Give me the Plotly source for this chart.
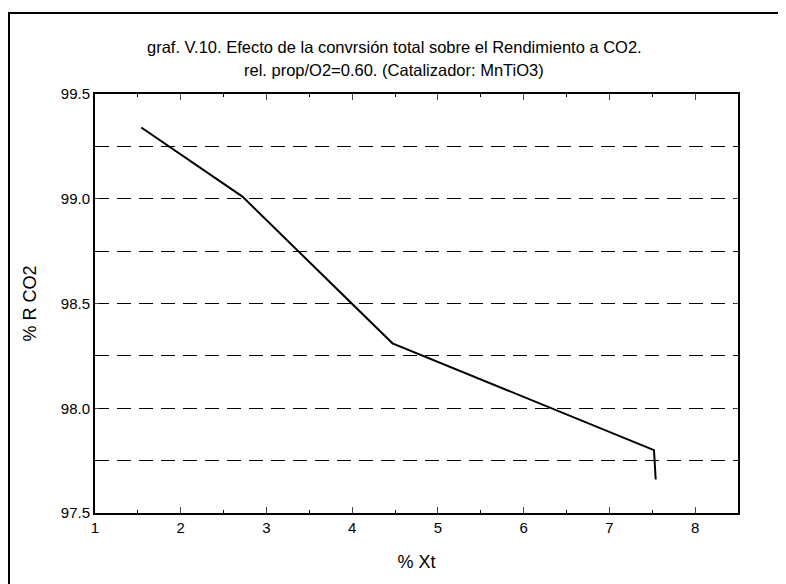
import plotly.graph_objects as go

# data
xt = [1.54, 2.72, 4.47, 7.52, 7.54]
r_co2 = [99.34, 99.01, 98.31, 97.80, 97.66]

y_tick_vals = [97.5, 98.0, 98.5, 99.0, 99.5]
y_tick_text = ["97.5", "98.0", "98.5", "99.0", "99.5"]
x_tick_vals = [1, 2, 3, 4, 5, 6, 7, 8]
title_lines = ["graf. V.10. Efecto de la convrsión total sobre el Rendimiento a CO2.",
               "rel. prop/O2=0.60. (Catalizador: MnTiO3)"]

W, H = 786, 584
L, R, T, B = 87, 56, 86, 79
pw, ph = W - L - R, H - T - B

def px(xp):
    return (xp - L) / pw

def py(yp):
    return (H - B - yp) / ph

fig = go.Figure()
fig.add_trace(go.Scatter(x=xt, y=r_co2, mode="lines",
                         line=dict(color="black", width=2), showlegend=False))

fig.update_layout(
    width=W, height=H,
    margin=dict(l=L, r=R, t=T, b=B),
    paper_bgcolor="white", plot_bgcolor="white",
    font=dict(family="Liberation Sans, Arial, sans-serif", color="black", size=15),
)
for line_text, yc in zip(title_lines, [39, 62]):
    fig.add_annotation(text=line_text, xref="paper", yref="paper",
                       x=px(386), y=py(yc), xanchor="center", yanchor="middle",
                       showarrow=False, font=dict(size=16.5))

fig.update_xaxes(range=[1, 8.5], tickvals=x_tick_vals, ticks="inside", ticklen=6,
                 showline=True, linecolor="black", linewidth=2, mirror="ticks",
                 showgrid=False, zeroline=False,
                 minor=dict(dtick=0.5, ticks="inside", ticklen=3, tickcolor="black"),
                 title=dict(text="% Xt", standoff=20), tickfont=dict(size=15))
fig.update_yaxes(range=[97.5, 99.5], tickvals=y_tick_vals, ticktext=y_tick_text,
                 ticks="inside", ticklen=4,
                 showline=True, linecolor="black", linewidth=2, mirror="ticks",
                 showgrid=True, gridcolor="black", gridwidth=1, griddash="14px,8px",
                 zeroline=False,
                 minor=dict(dtick=0.25, showgrid=True, gridcolor="black", gridwidth=1,
                            griddash="14px,8px"),
                 title=dict(text="% R CO2", standoff=19), tickfont=dict(size=15))

# outer frame (only top and left edges are visible in the original)
fig.add_shape(type="line", xref="paper", yref="paper",
              x0=px(0), x1=px(W + 10), y0=py(5), y1=py(5),
              line=dict(color="black", width=2), layer="below")
fig.add_shape(type="line", xref="paper", yref="paper",
              x0=px(1), x1=px(1), y0=py(5), y1=py(H + 10),
              line=dict(color="black", width=2), layer="below")

fig.write_html("out.html")
